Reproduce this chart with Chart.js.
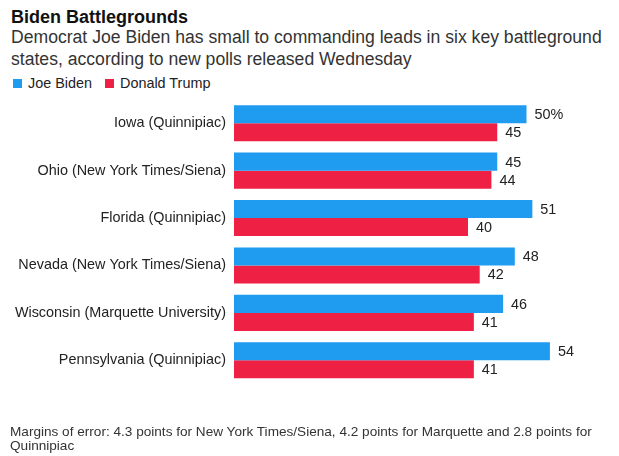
<!DOCTYPE html>
<html lang="en">
<head>
    <meta charset="UTF-8">
    <title>Biden Battlegrounds</title>
    <script src="https://cdn.jsdelivr.net/npm/chart.js"></script>
    <style>
        * { box-sizing: border-box; margin: 0; padding: 0; }
        body {
            width: 619px;
            height: 456px;
            background: #fff;
            font-family: "Liberation Sans", Arial, sans-serif;
            color: #222;
            position: relative;
            overflow: hidden;
        }
        .title { position: absolute; left: 11px; top: 6px; font-size: 18px; line-height: 22px; font-weight: 700; color: #111; }
        .subtitle { position: absolute; left: 11px; top: 27px; font-size: 17.6px; line-height: 21.5px; color: #333; width: 605px; }
        .legend { position: absolute; left: 13px; top: 75px; font-size: 14.4px; line-height: 17px; color: #222; display: flex; align-items: center; }
        .legend span.sw { display: inline-block; width: 9px; height: 9px; margin-right: 6px; }
        .legend span.item { margin-right: 13px; display: flex; align-items: center; }
        .note { position: absolute; left: 10px; top: 425px; font-size: 13.6px; line-height: 14px; color: #333; width: 600px; }
        #chartBox { position: absolute; left: 0; top: 0; width: 619px; height: 456px; }
    </style>
</head>
<body>
    <div class="title">Biden Battlegrounds</div>
    <div class="subtitle">Democrat Joe Biden has small to commanding leads in six key battleground states, according to new polls released Wednesday</div>
    <div class="legend">
        <span class="item"><span class="sw" style="background:#1f9bf0"></span>Joe Biden</span>
        <span class="item"><span class="sw" style="background:#ee2144"></span>Donald Trump</span>
    </div>
    <div id="chartBox"><canvas id="polls" width="619" height="456"></canvas></div>
    <div class="note">Margins of error: 4.3 points for New York Times/Siena, 4.2 points for Marquette and 2.8 points for Quinnipiac</div>

    <script>
        // poll numbers, percent
        const states = [
            'Iowa (Quinnipiac)',
            'Ohio (New York Times/Siena)',
            'Florida (Quinnipiac)',
            'Nevada (New York Times/Siena)',
            'Wisconsin (Marquette University)',
            'Pennsylvania (Quinnipiac)'
        ];
        const biden = [50, 45, 51, 48, 46, 54];
        const trump = [45, 44, 40, 42, 41, 41];

        // value labels at the end of each bar
        const barLabels = {
            id: 'barLabels',
            afterDatasetsDraw(chart) {
                const c = chart.ctx;
                c.save();
                c.font = '14.4px "Liberation Sans", Arial, sans-serif';
                c.fillStyle = '#222';
                c.textBaseline = 'middle';
                chart.data.datasets.forEach((ds, di) => {
                    chart.getDatasetMeta(di).data.forEach((bar, i) => {
                        let txt = String(ds.data[i]);
                        if (di === 0 && i === 0) txt += '%';
                        c.fillText(txt, bar.x + 8, bar.y + 1);
                    });
                });
                c.restore();
            }
        };

        new Chart(document.getElementById('polls'), {
            type: 'bar',
            data: {
                labels: states,
                datasets: [
                    { label: 'Joe Biden', data: biden, backgroundColor: '#1f9bf0' },
                    { label: 'Donald Trump', data: trump, backgroundColor: '#ee2144' }
                ]
            },
            options: {
                indexAxis: 'y',
                responsive: false,
                animation: false,
                devicePixelRatio: 1,
                layout: { padding: { top: 99.5, bottom: 72, right: 34, left: 0 } },
                datasets: { bar: { barPercentage: 1, categoryPercentage: 0.76 } },
                plugins: { legend: { display: false }, tooltip: { enabled: false } },
                scales: {
                    x: {
                        min: 0, max: 60,
                        display: false
                    },
                    y: {
                        grid: { display: false, drawTicks: false },
                        border: { display: false },
                        ticks: {
                            padding: 8,
                            color: '#222',
                            font: { family: '"Liberation Sans", Arial, sans-serif', size: 14.4 }
                        },
                        afterFit(scale) { scale.width = 234; }
                    }
                }
            },
            plugins: [barLabels]
        });
    </script>
</body>
</html>
